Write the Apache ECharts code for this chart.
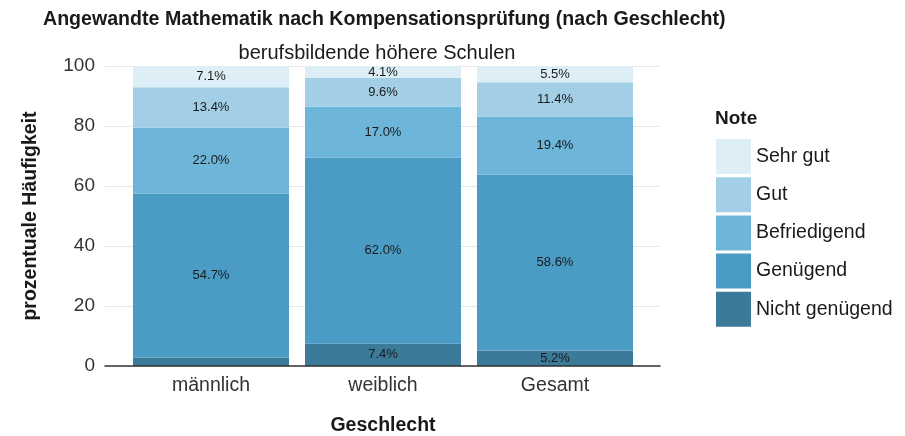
<!DOCTYPE html>
<html><head><meta charset="utf-8">
<script src="https://cdn.jsdelivr.net/npm/echarts@6/dist/echarts.min.js"></script>
<style>html,body{margin:0;padding:0;background:#fff}#c{width:905px;height:436px}</style>
</head><body><div id="c"></div>
<script>
const categories = ['männlich', 'weiblich', 'Gesamt'];
const grades = ['Nicht genügend', 'Genügend', 'Befriedigend', 'Gut', 'Sehr gut'];
const nichtGenuegend = [2.8, 7.4, 5.2];
const genuegend = [54.7, 62.0, 58.6];
const befriedigend = [22.0, 17.0, 19.4];
const gut = [13.4, 9.6, 11.4];
const sehrGut = [7.1, 4.1, 5.5];
const yTicks = [0, 20, 40, 60, 80, 100];
const colors = ['#3b7a98', '#4a9cc5', '#6db5d9', '#a2cfe6', '#ddeef7'];
const seriesValues = [nichtGenuegend, genuegend, befriedigend, gut, sehrGut];

const font = '"Liberation Sans", Arial, sans-serif';
const chart = echarts.init(document.getElementById('c'));
chart.setOption({
  animation: false,
  textStyle: { fontFamily: font },
  title: [
    { text: 'Angewandte Mathematik nach Kompensationsprüfung (nach Geschlecht)', left: 38, top: 5,
      textStyle: { fontFamily: font, fontSize: 19.6, fontWeight: 'bold', color: '#1a1a1a' } },
    { text: 'berufsbildende höhere Schulen', left: 372, top: 38, textAlign: 'center',
      textStyle: { fontFamily: font, fontSize: 20, fontWeight: 'normal', color: '#1a1a1a' } },
    { text: 'Note', left: 710, top: 104,
      textStyle: { fontFamily: font, fontSize: 19, fontWeight: 'bold', color: '#1a1a1a' } }
  ],
  legend: {
    orient: 'vertical', left: 711, top: 134,
    itemWidth: 35, itemHeight: 35, itemGap: 3.2, icon: 'rect',
    data: grades.slice().reverse(),
    textStyle: { fontFamily: font, fontSize: 19.5, color: '#1a1a1a' },
    selectedMode: false
  },
  grid: [
    { left: 105, right: 245, top: 66, bottom: 70, outerBoundsMode: 'none', containLabel: false },
    { left: 125, width: 516, top: 66, bottom: 70, outerBoundsMode: 'none', containLabel: false }
  ],
  xAxis: [
    { gridIndex: 0, type: 'value', min: 0, max: 1, z: 10,
      axisLine: { show: true, lineStyle: { color: '#333', width: 1.5 } },
      axisTick: { show: false }, axisLabel: { show: false }, splitLine: { show: false } },
    { gridIndex: 1, type: 'category', data: categories,
      axisLine: { show: false }, axisTick: { show: false },
      axisLabel: { fontSize: 19.5, color: '#333', margin: 10, fontFamily: font },
      name: 'Geschlecht', nameLocation: 'middle', nameGap: 50,
      nameTextStyle: { fontSize: 19.5, fontWeight: 'bold', color: '#1a1a1a', fontFamily: font } }
  ],
  yAxis: [
    { gridIndex: 0, type: 'value', min: 0, max: 100, interval: 20,
      axisLine: { show: false }, axisTick: { show: false },
      axisLabel: { fontSize: 19, color: '#333', margin: 10, fontFamily: font,
        formatter: v => yTicks.includes(v) ? String(v) : '' },
      splitLine: { lineStyle: { color: '#e6e6e6', width: 1 } },
      name: 'prozentuale Häufigkeit', nameLocation: 'middle', nameGap: 64,
      nameTextStyle: { fontSize: 19.5, fontWeight: 'bold', color: '#1a1a1a', fontFamily: font } },
    { gridIndex: 1, type: 'value', min: 0, max: 100, show: false }
  ],
  series: grades.map((g, i) => ({
    name: g, type: 'bar', stack: 'total', xAxisIndex: 1, yAxisIndex: 1,
    barWidth: 156, itemStyle: { color: colors[i] },
    data: seriesValues[i],
    label: { show: true, position: 'inside', fontSize: 13, color: '#1a1a1a', fontFamily: font,
      formatter: p => p.value < 3 ? '' : p.value.toFixed(1) + '%' }
  }))
});
</script></body></html>
